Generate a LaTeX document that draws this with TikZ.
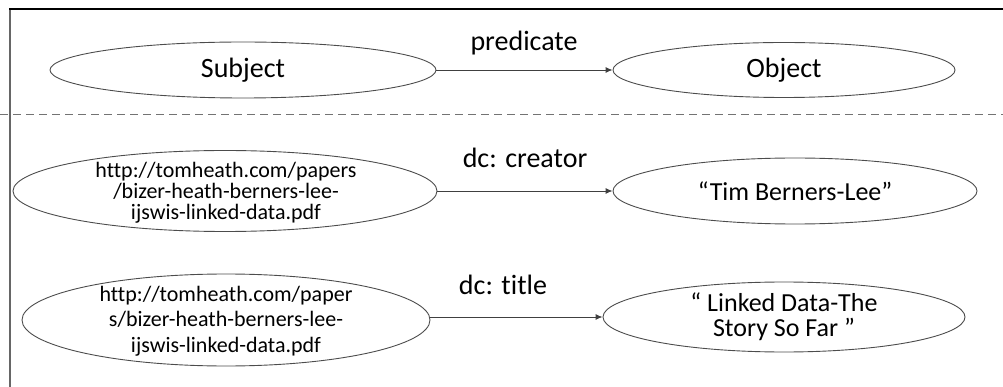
\documentclass[tikz,border=0pt]{standalone}
\usepackage{fontspec}
\setmainfont{Carlito}[Ligatures={NoCommon}]
\usetikzlibrary{shapes.geometric,arrows.meta}
\begin{document}
\begin{tikzpicture}[x=1pt,y=-1pt,
  oval/.style={ellipse,draw=black!70,line width=0.9pt,inner sep=0pt},
  big/.style={font=\fontsize{28}{34}\selectfont,text=black},
  lit/.style={font=\fontsize{26}{25}\selectfont,align=center,text=black},
  url/.style={font=\fontsize{22}{21}\selectfont,align=center,text=black},
  arr/.style={draw=black!75,line width=0.9pt,-{Latex[length=7pt,width=6pt]}},
  lbl/.style={font=\fontsize{28}{34}\selectfont,anchor=base,text=black}]
\useasboundingbox (0,0) rectangle (1003,387);
% frame
\draw[black!60,line width=2pt] (10,9) -- (10,387);
\draw[black,line width=1.3pt] (9,9) -- (1003,9);
\draw[black!55,line width=1pt,dash pattern=on 8pt off 5pt] (0,115) -- (1003,115);
% row 1
\node[oval,minimum width=386pt,minimum height=56pt] (s1) at (243,70) {};
\node[big] (s1t) at (s1.center) {Subject};
\node[oval,minimum width=342pt,minimum height=55pt] (o1) at (784,70) {};
\node[big] (o1t) at (o1.center) {Object};
\draw[arr] (s1) -- (o1);
\node[lbl] (p1) at (524,51) {predicate};
% row 2
\node[oval,minimum width=424pt,minimum height=81pt] (s2) at (225,191) {};
\node[url,font=\fontsize{22}{21}\selectfont] (s2t) at (226,193) {http://tomheath.com/papers\\/bizer-heath-berners-lee-\\ijswis-linked-data.pdf};
\node[oval,minimum width=364pt,minimum height=66pt] (o2) at (795,191) {};
\node[lit] (o2t) at (o2.center) {“Tim Berners-Lee”};
\draw[arr] (s2) -- (o2);
\node[lbl] (p2) at (525,168) {dc: creator};
% row 3
\node[oval,minimum width=408pt,minimum height=92pt] (s3) at (226,320) {};
\node[url,font=\fontsize{22}{25.5}\selectfont] (s3t) at (226,321) {http://tomheath.com/paper\\s/bizer-heath-berners-lee-\\ijswis-linked-data.pdf};
\node[oval,minimum width=362pt,minimum height=70pt] (o3) at (784,317) {};
\node[lit] (o3t) at (o3.center) {“ Linked Data-The\\Story So Far ”};
\draw[arr] (s3.east |- o3.west) -- (o3.west);
\node[lbl] (p3) at (503,294) {dc: title};
\end{tikzpicture}
\end{document}
